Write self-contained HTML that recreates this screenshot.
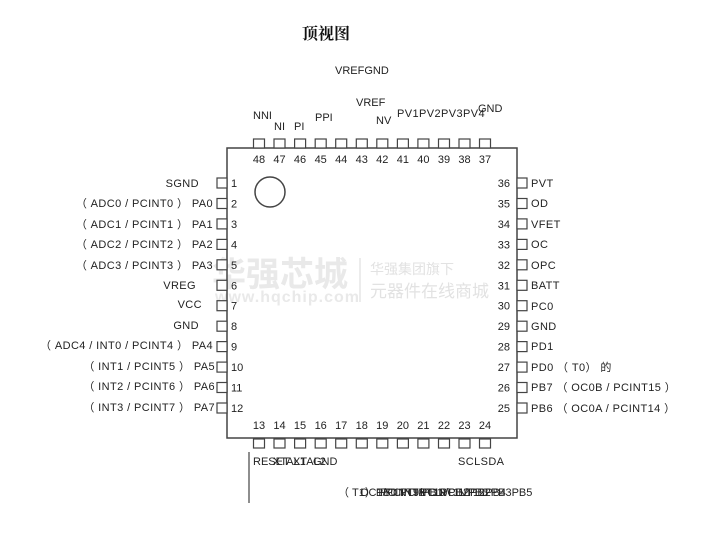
<!DOCTYPE html>
<html><head><meta charset="utf-8"><style>
html,body{margin:0;padding:0;background:#fff;}
svg{display:block;}
text{font-family:"Liberation Sans","Noto Sans CJK SC",sans-serif;font-size:11px;fill:#222;}
.n{font-size:11px;}
.l{letter-spacing:0.4px;}
</style></head><body>
<svg width="702" height="559" viewBox="0 0 702 559" xmlns="http://www.w3.org/2000/svg">
<text x="302" y="39" style="font-family:'Noto Serif CJK SC','Liberation Serif',serif;font-size:16px;font-weight:bold;fill:#111">顶视图</text>
<text x="212" y="286" style="font-size:34px;font-weight:bold;fill:#e9e9e9;font-family:'Noto Sans CJK SC',sans-serif">华强芯城</text>
<text x="215" y="302" style="font-size:16px;font-weight:bold;fill:#e9e9e9;letter-spacing:1px">www.hqchip.com</text>
<line x1="360" y1="258" x2="360" y2="302" stroke="#e6e6e6" stroke-width="1.5"/>
<text x="370" y="274" style="font-size:14px;fill:#e2e2e2;font-family:'Noto Sans CJK SC',sans-serif">华强集团旗下</text>
<text x="370" y="297" style="font-size:17px;fill:#e2e2e2;font-family:'Noto Sans CJK SC',sans-serif">元器件在线商城</text>
<rect x="227" y="148" width="290" height="290" fill="none" stroke="#444" stroke-width="1.5"/>
<circle cx="270" cy="192" r="15" fill="none" stroke="#444" stroke-width="1.5"/>
<g fill="#fff" stroke="#444" stroke-width="1.2">
<rect x="253.5" y="139" width="11" height="9"/><rect x="274" y="139" width="11" height="9"/><rect x="294.6" y="139" width="11" height="9"/><rect x="315.2" y="139" width="11" height="9"/><rect x="335.7" y="139" width="11" height="9"/><rect x="356.3" y="139" width="11" height="9"/><rect x="376.8" y="139" width="11" height="9"/><rect x="397.4" y="139" width="11" height="9"/><rect x="417.9" y="139" width="11" height="9"/><rect x="438.5" y="139" width="11" height="9"/><rect x="459" y="139" width="11" height="9"/><rect x="479.5" y="139" width="11" height="9"/>
<rect x="253.5" y="439" width="11" height="9"/><rect x="274" y="439" width="11" height="9"/><rect x="294.6" y="439" width="11" height="9"/><rect x="315.2" y="439" width="11" height="9"/><rect x="335.7" y="439" width="11" height="9"/><rect x="356.3" y="439" width="11" height="9"/><rect x="376.8" y="439" width="11" height="9"/><rect x="397.4" y="439" width="11" height="9"/><rect x="417.9" y="439" width="11" height="9"/><rect x="438.5" y="439" width="11" height="9"/><rect x="459" y="439" width="11" height="9"/><rect x="479.5" y="439" width="11" height="9"/>
</g>
<g fill="#fff" stroke="#444" stroke-width="1.2">
<rect x="217" y="178" width="10" height="10"/><rect x="217" y="198.5" width="10" height="10"/><rect x="217" y="218.9" width="10" height="10"/><rect x="217" y="239.4" width="10" height="10"/><rect x="217" y="259.8" width="10" height="10"/><rect x="217" y="280.3" width="10" height="10"/><rect x="217" y="300.7" width="10" height="10"/><rect x="217" y="321.2" width="10" height="10"/><rect x="217" y="341.6" width="10" height="10"/><rect x="217" y="362.1" width="10" height="10"/><rect x="217" y="382.5" width="10" height="10"/><rect x="217" y="403" width="10" height="10"/>
<rect x="517" y="178" width="10" height="10"/><rect x="517" y="198.5" width="10" height="10"/><rect x="517" y="218.9" width="10" height="10"/><rect x="517" y="239.4" width="10" height="10"/><rect x="517" y="259.8" width="10" height="10"/><rect x="517" y="280.3" width="10" height="10"/><rect x="517" y="300.7" width="10" height="10"/><rect x="517" y="321.2" width="10" height="10"/><rect x="517" y="341.6" width="10" height="10"/><rect x="517" y="362.1" width="10" height="10"/><rect x="517" y="382.5" width="10" height="10"/><rect x="517" y="403" width="10" height="10"/>
</g>
<line x1="249" y1="452" x2="249" y2="503" stroke="#444" stroke-width="1.2"/>
<g text-anchor="middle">
<text class="n" x="259" y="163">48</text><text class="n" x="279.5" y="163">47</text><text class="n" x="300" y="163">46</text><text class="n" x="320.7" y="163">45</text><text class="n" x="341.2" y="163">44</text><text class="n" x="361.8" y="163">43</text><text class="n" x="382.3" y="163">42</text><text class="n" x="402.9" y="163">41</text><text class="n" x="423.4" y="163">40</text><text class="n" x="444" y="163">39</text><text class="n" x="464.5" y="163">38</text><text class="n" x="485" y="163">37</text>
<text class="n" x="259" y="429">13</text><text class="n" x="279.5" y="429">14</text><text class="n" x="300" y="429">15</text><text class="n" x="320.7" y="429">16</text><text class="n" x="341.2" y="429">17</text><text class="n" x="361.8" y="429">18</text><text class="n" x="382.3" y="429">19</text><text class="n" x="402.9" y="429">20</text><text class="n" x="423.4" y="429">21</text><text class="n" x="444" y="429">22</text><text class="n" x="464.5" y="429">23</text><text class="n" x="485" y="429">24</text>
</g>
<text class="n" x="231" y="187">1</text><text class="n" x="231" y="207.5">2</text><text class="n" x="231" y="228">3</text><text class="n" x="231" y="248.4">4</text><text class="n" x="231" y="268.8">5</text><text class="n" x="231" y="289.3">6</text><text class="n" x="231" y="309.7">7</text><text class="n" x="231" y="330.2">8</text><text class="n" x="231" y="350.6">9</text><text class="n" x="231" y="371.1">10</text><text class="n" x="231" y="391.5">11</text><text class="n" x="231" y="412">12</text>
<g text-anchor="end">
<text class="n" x="510" y="187">36</text><text class="n" x="510" y="207.5">35</text><text class="n" x="510" y="228">34</text><text class="n" x="510" y="248.4">33</text><text class="n" x="510" y="268.8">32</text><text class="n" x="510" y="289.3">31</text><text class="n" x="510" y="309.7">30</text><text class="n" x="510" y="330.2">29</text><text class="n" x="510" y="350.6">28</text><text class="n" x="510" y="371.1">27</text><text class="n" x="510" y="391.5">26</text><text class="n" x="510" y="412">25</text>
</g>
<g text-anchor="end" class="l">
<text class="l" x="199" y="187">SGND</text>
<text class="l" x="213" y="207">（ ADC0 / PCINT0 ） PA0</text>
<text class="l" x="213" y="228">（ ADC1 / PCINT1 ） PA1</text>
<text class="l" x="213" y="248">（ ADC2 / PCINT2 ） PA2</text>
<text class="l" x="213" y="269">（ ADC3 / PCINT3 ） PA3</text>
<text class="l" x="196" y="289">VREG</text>
<text class="l" x="202" y="308">VCC</text>
<text class="l" x="199" y="329">GND</text>
<text class="l" x="213" y="349">（ ADC4 / INT0 / PCINT4 ） PA4</text>
<text class="l" x="215" y="370">（ INT1 / PCINT5 ） PA5</text>
<text class="l" x="215" y="390">（ INT2 / PCINT6 ） PA6</text>
<text class="l" x="215" y="411">（ INT3 / PCINT7 ） PA7</text>
</g>
<g class="l">
<text class="l" x="531" y="187">PVT</text>
<text class="l" x="531" y="207">OD</text>
<text class="l" x="531" y="228">VFET</text>
<text class="l" x="531" y="248">OC</text>
<text class="l" x="531" y="269">OPC</text>
<text class="l" x="531" y="289">BATT</text>
<text class="l" x="531" y="310">PC0</text>
<text class="l" x="531" y="330">GND</text>
<text class="l" x="531" y="350">PD1</text>
<text class="l" x="531" y="371">PD0 （ T0） 的</text>
<text class="l" x="531" y="391">PB7 （ OC0B / PCINT15 ）</text>
<text class="l" x="531" y="412">PB6 （ OC0A / PCINT14 ）</text>
</g>
<text x="335" y="74">VREFGND</text>
<text x="253" y="119">NNI</text>
<text x="274" y="130">NI</text>
<text x="294" y="130">PI</text>
<text x="315" y="121">PPI</text>
<text x="356" y="106">VREF</text>
<text x="376" y="124">NV</text>
<text class="l" x="397" y="117">PV1PV2PV3PV4</text>
<text x="478" y="112">GND</text>
<text x="253" y="465">RESET</text>
<text x="273" y="465">XTAL1</text>
<text x="293" y="465">XTAL2</text>
<text x="313" y="465">GND</text>
<text class="l" x="458" y="465">SCLSDA</text>
<text x="338" y="496">（ T1）PB0</text>
<text x="360" y="496">OC1/PCINT8</text>
<text x="380" y="496">PCINT9/PB1</text>
<text x="400" y="496">PCINT10/PB2</text>
<text x="420" y="496">PCINT11/PB3</text>
<text x="440" y="496">PCINT12PB4</text>
<text x="470" y="496">PB2PB3PB5</text>
</svg>
</body></html>
